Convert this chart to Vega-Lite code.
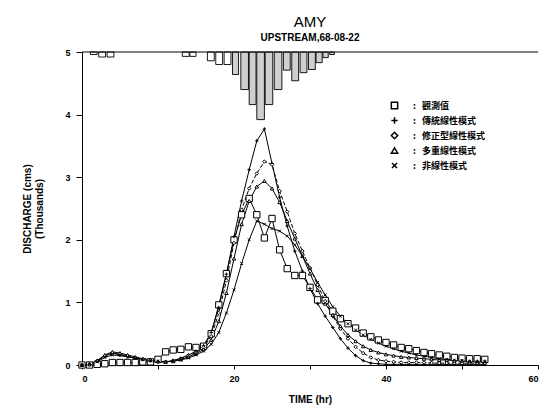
{
  "$schema": "https://vega.github.io/schema/vega-lite/v6.json",
  "width": 456,
  "height": 313,
  "autosize": "none",
  "padding": {"left": 82, "top": 52, "right": 10, "bottom": 42},
  "background": "white",
  "config": {
    "view": {"stroke": null},
    "font": "Liberation Sans"
  },
  "title": {
    "text": "AMY",
    "subtitle": "UPSTREAM,68-08-22",
    "fontSize": 15,
    "fontWeight": "normal",
    "font": "Liberation Sans",
    "subtitleFont": "Liberation Sans",
    "subtitleFontSize": 10,
    "subtitleFontWeight": "bold",
    "subtitleColor": "black",
    "color": "black",
    "anchor": "middle",
    "offset": 5,
    "subtitlePadding": 3
  },
  "datasets": {
    "rain": [
      {"t0": 1.1, "t1": 2.0, "r": 4.96},
      {"t0": 2.2, "t1": 3.1, "r": 4.92},
      {"t0": 3.3, "t1": 4.2, "r": 4.92},
      {"t0": 13.2, "t1": 14.1, "r": 4.93},
      {"t0": 14.2, "t1": 15.0, "r": 4.93},
      {"t0": 16.5, "t1": 17.4, "r": 4.86},
      {"t0": 17.6, "t1": 18.5, "r": 4.80},
      {"t0": 18.7, "t1": 19.6, "r": 4.80},
      {"t0": 19.8, "t1": 20.6, "r": 4.64},
      {"t0": 20.9, "t1": 21.9, "r": 4.40},
      {"t0": 22.0, "t1": 22.9, "r": 4.16},
      {"t0": 23.0, "t1": 24.0, "r": 3.92},
      {"t0": 24.1, "t1": 25.1, "r": 4.16},
      {"t0": 25.3, "t1": 26.3, "r": 4.40},
      {"t0": 26.5, "t1": 27.4, "r": 4.71},
      {"t0": 27.6, "t1": 28.5, "r": 4.54},
      {"t0": 28.7, "t1": 29.6, "r": 4.67},
      {"t0": 29.8, "t1": 30.7, "r": 4.72},
      {"t0": 30.8, "t1": 31.6, "r": 4.83},
      {"t0": 31.7, "t1": 32.4, "r": 4.91},
      {"t0": 32.6, "t1": 33.2, "r": 4.96}
    ],
    "flow": [
      {"t": 0, "觀測值": 0, "傳統線性模式": 0, "修正型線性模式": 0, "多重線性模式": 0, "非線性模式": 0},
      {"t": 1, "觀測值": 0, "傳統線性模式": 0.01, "修正型線性模式": 0.01, "多重線性模式": 0.01, "非線性模式": 0.01},
      {"t": 2, "觀測值": 0.01, "傳統線性模式": 0.07, "修正型線性模式": 0.06, "多重線性模式": 0.07, "非線性模式": 0.05},
      {"t": 3, "觀測值": 0.02, "傳統線性模式": 0.15, "修正型線性模式": 0.14, "多重線性模式": 0.16, "非線性模式": 0.12},
      {"t": 4, "觀測值": 0.04, "傳統線性模式": 0.19, "修正型線性模式": 0.18, "多重線性模式": 0.21, "非線性模式": 0.16},
      {"t": 5, "觀測值": 0.04, "傳統線性模式": 0.17, "修正型線性模式": 0.17, "多重線性模式": 0.19, "非線性模式": 0.15},
      {"t": 6, "觀測值": 0.04, "傳統線性模式": 0.14, "修正型線性模式": 0.14, "多重線性模式": 0.16, "非線性模式": 0.13},
      {"t": 7, "觀測值": 0.04, "傳統線性模式": 0.11, "修正型線性模式": 0.11, "多重線性模式": 0.13, "非線性模式": 0.11},
      {"t": 8, "觀測值": 0.05, "傳統線性模式": 0.09, "修正型線性模式": 0.09, "多重線性模式": 0.10, "非線性模式": 0.09},
      {"t": 9, "觀測值": 0.05, "傳統線性模式": 0.07, "修正型線性模式": 0.07, "多重線性模式": 0.08, "非線性模式": 0.07},
      {"t": 10, "觀測值": 0.09, "傳統線性模式": 0.05, "修正型線性模式": 0.05, "多重線性模式": 0.06, "非線性模式": 0.06},
      {"t": 11, "觀測值": 0.21, "傳統線性模式": 0.05, "修正型線性模式": 0.05, "多重線性模式": 0.05, "非線性模式": 0.05},
      {"t": 12, "觀測值": 0.24, "傳統線性模式": 0.07, "修正型線性模式": 0.07, "多重線性模式": 0.06, "非線性模式": 0.06},
      {"t": 13, "觀測值": 0.25, "傳統線性模式": 0.11, "修正型線性模式": 0.10, "多重線性模式": 0.09, "非線性模式": 0.08},
      {"t": 14, "觀測值": 0.29, "傳統線性模式": 0.16, "修正型線性模式": 0.15, "多重線性模式": 0.13, "非線性模式": 0.11},
      {"t": 15, "觀測值": 0.28, "傳統線性模式": 0.22, "修正型線性模式": 0.20, "多重線性模式": 0.18, "非線性模式": 0.16},
      {"t": 16, "觀測值": 0.30, "傳統線性模式": 0.31, "修正型線性模式": 0.28, "多重線性模式": 0.25, "非線性模式": 0.22},
      {"t": 17, "觀測值": 0.50, "傳統線性模式": 0.52, "修正型線性模式": 0.46, "多重線性模式": 0.40, "非線性模式": 0.33},
      {"t": 18, "觀測值": 0.96, "傳統線性模式": 0.92, "修正型線性模式": 0.83, "多重線性模式": 0.70, "非線性模式": 0.52},
      {"t": 19, "觀測值": 1.46, "傳統線性模式": 1.45, "修正型線性模式": 1.35, "多重線性模式": 1.15, "非線性模式": 0.83},
      {"t": 20, "觀測值": 2.00, "傳統線性模式": 2.05, "修正型線性模式": 1.95, "多重線性模式": 1.70, "非線性模式": 1.20},
      {"t": 21, "觀測值": 2.40, "傳統線性模式": 2.62, "修正型線性模式": 2.48, "多重線性模式": 2.25, "非線性模式": 1.62},
      {"t": 22, "觀測值": 2.66, "傳統線性模式": 3.12, "修正型線性模式": 2.82, "多重線性模式": 2.62, "非線性模式": 2.00},
      {"t": 23, "觀測值": 2.40, "傳統線性模式": 3.58, "修正型線性模式": 3.06, "多重線性模式": 2.85, "非線性模式": 2.30},
      {"t": 24, "觀測值": 2.03, "傳統線性模式": 3.77, "修正型線性模式": 3.25, "多重線性模式": 2.94, "非線性模式": 2.25},
      {"t": 25, "觀測值": 2.34, "傳統線性模式": 3.22, "修正型線性模式": 3.20, "多重線性模式": 2.82, "非線性模式": 2.18},
      {"t": 26, "觀測值": 1.84, "傳統線性模式": 2.68, "修正型線性模式": 2.78, "多重線性模式": 2.60, "非線性模式": 2.14},
      {"t": 27, "觀測值": 1.54, "傳統線性模式": 2.22, "修正型線性模式": 2.45, "多重線性模式": 2.30, "非線性模式": 2.06},
      {"t": 28, "觀測值": 1.43, "傳統線性模式": 1.82, "修正型線性模式": 2.10, "多重線性模式": 2.02, "非線性模式": 1.92},
      {"t": 29, "觀測值": 1.43, "傳統線性模式": 1.50, "修正型線性模式": 1.82, "多重線性模式": 1.74, "非線性模式": 1.74},
      {"t": 30, "觀測值": 1.24, "傳統線性模式": 1.22, "修正型線性模式": 1.55, "多重線性模式": 1.46, "非線性模式": 1.54},
      {"t": 31, "觀測值": 1.04, "傳統線性模式": 0.98, "修正型線性模式": 1.28, "多重線性模式": 1.20, "非線性模式": 1.32},
      {"t": 32, "觀測值": 1.03, "傳統線性模式": 0.78, "修正型線性模式": 1.02, "多重線性模式": 0.98, "非線性模式": 1.12},
      {"t": 33, "觀測值": 0.86, "傳統線性模式": 0.60, "修正型線性模式": 0.78, "多重線性模式": 0.80, "非線性模式": 0.93},
      {"t": 34, "觀測值": 0.74, "傳統線性模式": 0.42, "修正型線性模式": 0.58, "多重線性模式": 0.62, "非線性模式": 0.78},
      {"t": 35, "觀測值": 0.66, "傳統線性模式": 0.27, "修正型線性模式": 0.42, "多重線性模式": 0.48, "非線性模式": 0.66},
      {"t": 36, "觀測值": 0.59, "傳統線性模式": 0.15, "修正型線性模式": 0.29, "多重線性模式": 0.38, "非線性模式": 0.56},
      {"t": 37, "觀測值": 0.51, "傳統線性模式": 0.07, "修正型線性模式": 0.19, "多重線性模式": 0.30, "非線性模式": 0.48},
      {"t": 38, "觀測值": 0.45, "傳統線性模式": 0.03, "修正型線性模式": 0.12, "多重線性模式": 0.24, "非線性模式": 0.41},
      {"t": 39, "觀測值": 0.40, "傳統線性模式": 0.02, "修正型線性模式": 0.08, "多重線性模式": 0.20, "非線性模式": 0.35},
      {"t": 40, "觀測值": 0.36, "傳統線性模式": 0.01, "修正型線性模式": 0.06, "多重線性模式": 0.17, "非線性模式": 0.30},
      {"t": 41, "觀測值": 0.32, "傳統線性模式": 0.01, "修正型線性模式": 0.05, "多重線性模式": 0.15, "非線性模式": 0.26},
      {"t": 42, "觀測值": 0.28, "傳統線性模式": 0.01, "修正型線性模式": 0.04, "多重線性模式": 0.13, "非線性模式": 0.22},
      {"t": 43, "觀測值": 0.26, "傳統線性模式": 0.01, "修正型線性模式": 0.04, "多重線性模式": 0.12, "非線性模式": 0.19},
      {"t": 44, "觀測值": 0.23, "傳統線性模式": 0.01, "修正型線性模式": 0.04, "多重線性模式": 0.11, "非線性模式": 0.16},
      {"t": 45, "觀測值": 0.20, "傳統線性模式": 0.01, "修正型線性模式": 0.04, "多重線性模式": 0.10, "非線性模式": 0.14},
      {"t": 46, "觀測值": 0.18, "傳統線性模式": 0.01, "修正型線性模式": 0.03, "多重線性模式": 0.09, "非線性模式": 0.12},
      {"t": 47, "觀測值": 0.16, "傳統線性模式": 0.01, "修正型線性模式": 0.03, "多重線性模式": 0.08, "非線性模式": 0.10},
      {"t": 48, "觀測值": 0.14, "傳統線性模式": 0.01, "修正型線性模式": 0.03, "多重線性模式": 0.08, "非線性模式": 0.09},
      {"t": 49, "觀測值": 0.12, "傳統線性模式": 0.01, "修正型線性模式": 0.03, "多重線性模式": 0.07, "非線性模式": 0.08},
      {"t": 50, "觀測值": 0.11, "傳統線性模式": 0.01, "修正型線性模式": 0.03, "多重線性模式": 0.07, "非線性模式": 0.07},
      {"t": 51, "觀測值": 0.10, "傳統線性模式": 0.01, "修正型線性模式": 0.03, "多重線性模式": 0.06, "非線性模式": 0.06},
      {"t": 52, "觀測值": 0.10, "傳統線性模式": 0.01, "修正型線性模式": 0.03, "多重線性模式": 0.06, "非線性模式": 0.05},
      {"t": 53, "觀測值": 0.09, "傳統線性模式": 0.01, "修正型線性模式": 0.03, "多重線性模式": 0.06, "非線性模式": 0.05}
    ]
  },
  "layer": [
    {
      "data": {"name": "rain"},
      "mark": {"type": "rect", "stroke": "black", "strokeWidth": 0.9},
      "encoding": {
        "x": {
          "field": "t0", "type": "quantitative", "scale": {"domain": [0, 60], "nice": false},
          "axis": {
            "values": [0, 10, 20, 30, 40, 50, 60],
            "labelExpr": "datum.value % 20 == 0 ? datum.label : ''",
            "grid": false, "domainColor": "black", "tickColor": "black", "tickSize": 4,
            "labelColor": "black", "labelFontSize": 9, "labelFontWeight": "bold", "labelPadding": 5,
            "title": "TIME (hr)", "titleFontSize": 10, "titleFontWeight": "bold", "titleColor": "black", "titlePadding": 11
          }
        },
        "x2": {"field": "t1"},
        "y": {
          "field": "r", "type": "quantitative", "scale": {"domain": [0, 5], "nice": false},
          "axis": {
            "values": [0, 1, 2, 3, 4, 5],
            "format": "d",
            "grid": false, "domainColor": "black", "tickColor": "black", "tickSize": 6,
            "labelColor": "black", "labelFontSize": 9, "labelFontWeight": "bold", "labelPadding": 6,
            "title": ["DISCHARGE (cms)", "(Thousands)"], "titleFontSize": 10, "titleFontWeight": "bold", "titleColor": "black", "titlePadding": 20
          }
        },
        "y2": {"datum": 5},
        "fill": {"condition": {"test": "datum.t0 < 19.5", "value": "white"}, "value": "#cfcfcf"}
      }
    },
    {
      "data": {"values": [{}]},
      "mark": {"type": "rule", "color": "black", "strokeWidth": 1},
      "encoding": {
        "x": {"datum": 0, "type": "quantitative"},
        "x2": {"datum": 60},
        "y": {"datum": 5, "type": "quantitative"}
      }
    },
    {
      "data": {"name": "flow"},
      "transform": [
        {"fold": ["觀測值", "傳統線性模式", "修正型線性模式", "多重線性模式", "非線性模式"], "as": ["series", "q"]},
        {"filter": "datum.series != '修正型線性模式'"}
      ],
      "mark": {"type": "line", "color": "black", "strokeWidth": 1},
      "encoding": {
        "x": {"field": "t", "type": "quantitative"},
        "y": {"field": "q", "type": "quantitative"},
        "detail": {"field": "series", "type": "nominal"}
      }
    },
    {
      "data": {"name": "flow"},
      "transform": [
        {"fold": ["修正型線性模式"], "as": ["series", "q"]}
      ],
      "mark": {"type": "line", "color": "black", "strokeWidth": 1, "strokeDash": [4, 2]},
      "encoding": {
        "x": {"field": "t", "type": "quantitative"},
        "y": {"field": "q", "type": "quantitative"}
      }
    },
    {
      "data": {"name": "flow"},
      "transform": [{"fold": ["觀測值", "傳統線性模式", "修正型線性模式", "多重線性模式", "非線性模式"], "as": ["series", "q"]}],
      "mark": {"type": "point", "stroke": "black", "strokeWidth": 1, "opacity": 1, "filled": true},
      "encoding": {
        "x": {"field": "t", "type": "quantitative"},
        "y": {"field": "q", "type": "quantitative"},
        "shape": {
          "field": "series", "type": "nominal", "title": null,
          "scale": {"domain": ["觀測值", "傳統線性模式", "修正型線性模式", "多重線性模式", "非線性模式"], "range": ["square", "M-1,0L1,0M0,-1L0,1", "diamond", "triangle-up", "M-0.8,-0.8L0.8,0.8M-0.8,0.8L0.8,-0.8"]},
          "legend": {
            "orient": "none", "legendX": 308, "legendY": 49,
            "labelExpr": "':\u00a0\u00a0\u00a0' + datum.label",
            "symbolSize": 40, "labelFontSize": 9, "labelFont": "Noto Sans CJK TC", "labelFontWeight": "bold",
            "labelColor": "black", "rowPadding": 2, "labelOffset": 14,
            "encode": {"symbols": {"update": {"stroke": {"value": "black"}, "strokeWidth": {"value": 1.2}}}}
          }
        },
        "fill": {
          "field": "series", "type": "nominal", "title": null,
          "scale": {"domain": ["觀測值", "傳統線性模式", "修正型線性模式", "多重線性模式", "非線性模式"], "range": ["white", "black", "white", "white", "black"]}
        },
        "size": {"condition": {"test": "datum.series == '觀測值'", "value": 40}, "value": 12}
      }
    }
  ]
}
